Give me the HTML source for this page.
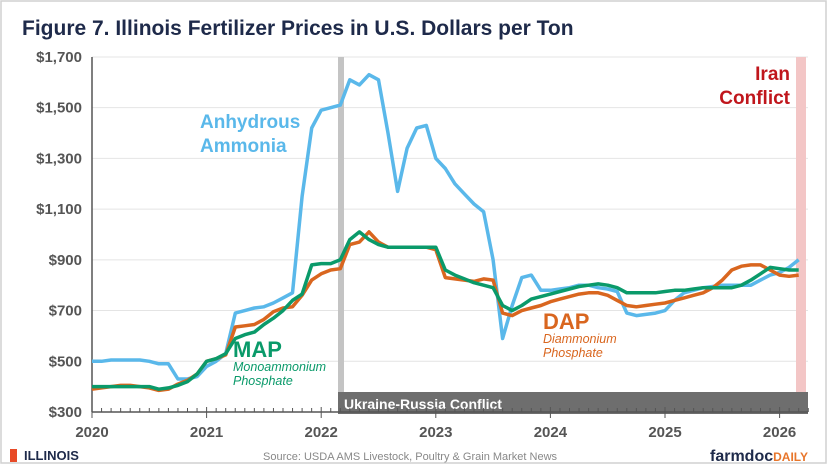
<!DOCTYPE html>
<html><head><meta charset="utf-8"><style>
body{margin:0;background:#fff;font-family:"Liberation Sans",sans-serif}
svg{display:block}
text{font-family:"Liberation Sans",sans-serif}
</style></head><body>
<svg id="c" width="828" height="468" viewBox="0 0 828 468">
<rect x="1" y="1" width="825" height="462" fill="#fff" stroke="#d0d0d0" stroke-width="1.5"/>
<text x="22" y="35" font-size="21" font-weight="bold" fill="#1e2a4a">Figure 7. Illinois Fertilizer Prices in U.S. Dollars per Ton</text>
<g id="grid"></g>
<rect x="796" y="57" width="10" height="335" fill="#f3c6c6"/>
<rect x="338" y="57" width="6" height="335" fill="#c4c4c4"/>
<rect x="338" y="392" width="470" height="22" fill="#6e6e6e"/>
<text x="344" y="409" font-size="14" font-weight="bold" fill="#fff">Ukraine-Russia Conflict</text>
<g id="axes"></g>
<g id="series"></g>
<text x="200" y="128" font-size="19" font-weight="bold" fill="#5ab8ea">Anhydrous</text>
<text x="200" y="152" font-size="19" font-weight="bold" fill="#5ab8ea">Ammonia</text>
<text x="233" y="357" font-size="22" font-weight="bold" fill="#0a9a6a">MAP</text>
<text x="233" y="371" font-size="12.5" font-style="italic" fill="#0a9a6a">Monoammonium</text>
<text x="233" y="385" font-size="12.5" font-style="italic" fill="#0a9a6a">Phosphate</text>
<text x="543" y="329" font-size="22" font-weight="bold" fill="#d9661f">DAP</text>
<text x="543" y="343" font-size="12.5" font-style="italic" fill="#d9661f">Diammonium</text>
<text x="543" y="357" font-size="12.5" font-style="italic" fill="#d9661f">Phosphate</text>
<text x="790" y="80" font-size="19" font-weight="bold" fill="#c0161c" text-anchor="end">Iran</text>
<text x="790" y="104" font-size="19" font-weight="bold" fill="#c0161c" text-anchor="end">Conflict</text>
<rect x="10" y="449" width="7" height="13" fill="#e84a27"/>
<text x="24" y="460" font-size="13" font-weight="bold" fill="#1e2a4a">ILLINOIS</text>
<text x="263" y="460" font-size="11" fill="#888">Source: USDA AMS Livestock, Poultry &amp; Grain Market News</text>
<text x="710" y="461" font-size="16" font-weight="bold" fill="#1e2a4a">farmdoc<tspan fill="#e8762b" font-size="12">DAILY</tspan></text>
</svg>
<script>
const years=[2020,2021,2022,2023,2024,2025,2026];
const yTicks=[300,500,700,900,1100,1300,1500,1700];
const yTickLabels=["$300","$500","$700","$900","$1,100","$1,300","$1,500","$1,700"];
const anhydrous=[500,500,505,505,505,505,500,490,490,430,430,440,
480,500,530,690,700,710,715,730,750,770,1150,1420,
1490,1500,1510,1610,1590,1630,1610,1400,1170,1340,1420,1430,
1300,1260,1200,1160,1120,1090,900,590,720,830,840,780,
780,785,790,800,800,790,785,775,690,680,685,690,
700,740,770,780,790,795,800,800,800,800,820,840,
850,870,900];
const dap=[390,395,400,405,405,400,395,385,390,410,425,450,
500,510,525,635,640,645,665,695,710,715,760,820,
845,860,865,960,970,1010,970,950,950,950,950,950,
940,830,825,820,815,825,820,690,680,700,710,720,
735,745,755,765,770,770,760,740,720,715,720,725,
730,740,750,760,770,790,820,860,875,880,880,860,
840,835,840];
const map=[400,400,400,400,400,400,400,390,395,405,420,450,
500,510,530,590,605,615,645,670,700,740,765,880,
885,885,900,980,1010,980,960,950,950,950,950,950,
950,860,840,825,810,800,790,720,700,720,745,755,
765,775,785,795,800,805,800,790,770,770,770,770,
775,780,780,785,790,790,790,790,800,820,845,870,
865,860,860];
const X=t=>92+(t-2020)*114.6;
const Y=v=>412-(v-300)*0.2536;
const NS="http://www.w3.org/2000/svg";
function mk(tag,attrs,parent){const e=document.createElementNS(NS,tag);for(const k in attrs)e.setAttribute(k,attrs[k]);parent.appendChild(e);return e;}
const grid=document.getElementById('grid'),axes=document.getElementById('axes'),ser=document.getElementById('series');
yTicks.forEach((v,i)=>{
 if(i>0){const l=mk('line',{x1:92,x2:808,y1:Y(v),y2:Y(v),stroke:'#e4e4e4','stroke-width':1},grid);
 
 }
 const t=mk('text',{x:82,y:Y(v)+5,'text-anchor':'end','font-size':15,'font-weight':'bold',fill:'#555'},axes);
 t.textContent=yTickLabels[i];
 
 
});
const ya=mk('line',{x1:92,x2:92,y1:57,y2:412,stroke:'#555','stroke-width':1.5},axes);


const xa=mk('line',{x1:92,x2:808,y1:412,y2:412,stroke:'#555','stroke-width':1.5},axes);


for(let m=0;m<=75;m++){const x=X(2020+m/12);const big=m%12===0;
 const tk=mk('line',{x1:x,x2:x,y1:big?407:408,y2:big?418:412,stroke:'#555','stroke-width':1},axes);
 
 }
years.forEach(y=>{const t=mk('text',{x:X(y),y:437,'text-anchor':'middle','font-size':15,'font-weight':'bold',fill:'#555'},axes);
 t.textContent=y;
 
 });
function line(arr,color,name){const d=arr.map((v,i)=>(i?'L':'M')+X(2020+i/12).toFixed(1)+','+Y(v).toFixed(1)).join('');
 const p=mk('path',{d:d,fill:'none',stroke:color,'stroke-width':3.5,'stroke-linejoin':'round'},ser);
 
 }
line(anhydrous,'#5ab8ea','anhydrous-ammonia-line');
line(dap,'#d9661f','dap-line');
line(map,'#0a9a6a','map-line');
</script>
</body></html>
